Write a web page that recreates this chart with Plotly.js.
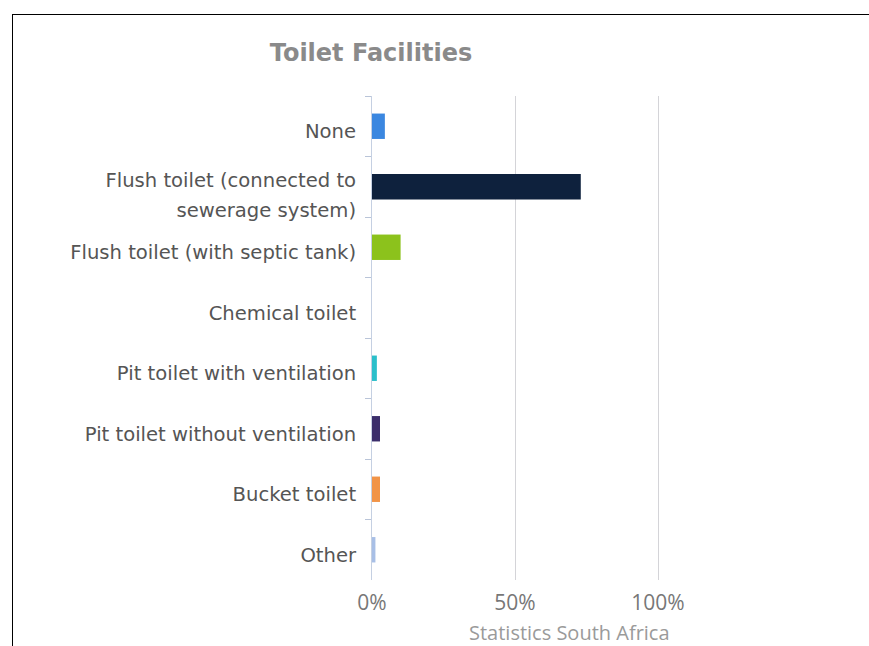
<!DOCTYPE html>
<html>
<head>
<meta charset="utf-8">
<script src="https://cdn.plot.ly/plotly-3.0.1.min.js"></script>
<style>
  html, body { margin: 0; padding: 0; background: #fff; }
  #wrap { position: relative; width: 869px; height: 646px; overflow: hidden; }
  #frame { position: absolute; left: 12px; top: 14px; width: 900px; height: 700px;
           border-top: 1px solid #000; border-left: 1px solid #000; pointer-events: none; z-index: 5; }
  #chart { position: absolute; left: 0; top: 0; width: 869px; height: 646px; }
</style>
</head>
<body>
<div id="wrap">
  <div id="chart"></div>
  <div id="frame"></div>
</div>
<script>
const categories = [
  "None",
  "Flush toilet (connected to<br>sewerage system)",
  "Flush toilet (with septic tank)",
  "Chemical toilet",
  "Pit toilet with ventilation",
  "Pit toilet without ventilation",
  "Bucket toilet",
  "Other"
];
const values = [4.5, 73, 10, 0, 1.7, 2.8, 2.8, 1.2];
const barColors = ["#3b87e0", "#0e213d", "#8cc21c", "#9a9a9a", "#2bbfca", "#3b2e6b", "#f19448", "#a8bfe6"];
const xTickVals = [0, 50, 100];
const xTickText = ["0%", "50%", "100%"];

const trace = {
  type: "bar",
  orientation: "h",
  y: categories,
  x: values,
  width: 0.42,
  marker: { color: barColors },
  hoverinfo: "none"
};

const layout = {
  width: 869,
  height: 646,
  margin: { l: 372, r: 68, t: 96, b: 66 },
  paper_bgcolor: "#ffffff",
  plot_bgcolor: "#ffffff",
  showlegend: false,
  font: { family: "DejaVu Sans, sans-serif", color: "#555555" },
  title: {
    text: "<b>Toilet Facilities</b>",
    x: 371 / 869,
    xanchor: "center",
    xref: "container",
    y: 1 - 53 / 646,
    yanchor: "middle",
    yref: "container",
    font: { family: "DejaVu Sans, sans-serif", size: 24, color: "#8a8a8a" }
  },
  xaxis: {
    range: [0, 150],
    tickvals: xTickVals,
    ticktext: xTickText,
    showgrid: true,
    gridcolor: "#d4d4d8",
    gridwidth: 1,
    zeroline: false,
    showline: false,
    ticks: "",
    tickfont: { family: "Open Sans, DejaVu Sans, sans-serif", size: 21, color: "#777777" },
    ticklabelstandoff: 8,
    fixedrange: true
  },
  yaxis: {
    autorange: "reversed",
    showgrid: false,
    zeroline: false,
    showline: true,
    linecolor: "#c5d0e2",
    linewidth: 1,
    ticks: "outside",
    tickson: "boundaries",
    ticklen: 6,
    tickcolor: "#b9c4d8",
    tickfont: { family: "DejaVu Sans, sans-serif", size: 19.6, color: "#555555" },
    ticklabelstandoff: 11,
    fixedrange: true
  },
  annotations: [{
    text: "Statistics South Africa",
    xref: "paper", yref: "paper",
    x: (569 - 372) / 429, y: (580 - 632) / 484,
    xanchor: "center", yanchor: "middle",
    showarrow: false,
    font: { family: "Open Sans, DejaVu Sans, sans-serif", size: 20, color: "#9a9a9a" }
  }]
};

Plotly.newPlot("chart", [trace], layout, { displayModeBar: false, staticPlot: true }).then(function (gd) {
  // nudge category labels down slightly and widen line spacing, as in the reference
  gd.querySelectorAll(".yaxislayer-above .ytick text").forEach(function (t) {
    const lines = t.querySelectorAll("tspan.line");
    if (lines.length > 1) {
      for (let i = 1; i < lines.length; i++) lines[i].setAttribute("dy", "1.53em");
      const tr = t.getAttribute("transform") || "";
      t.setAttribute("transform", (tr + " translate(0,6)").trim());
    } else {
      const y = parseFloat(t.getAttribute("y") || "0");
      t.setAttribute("y", y + 5);
    }
  });
});
</script>
</body>
</html>
